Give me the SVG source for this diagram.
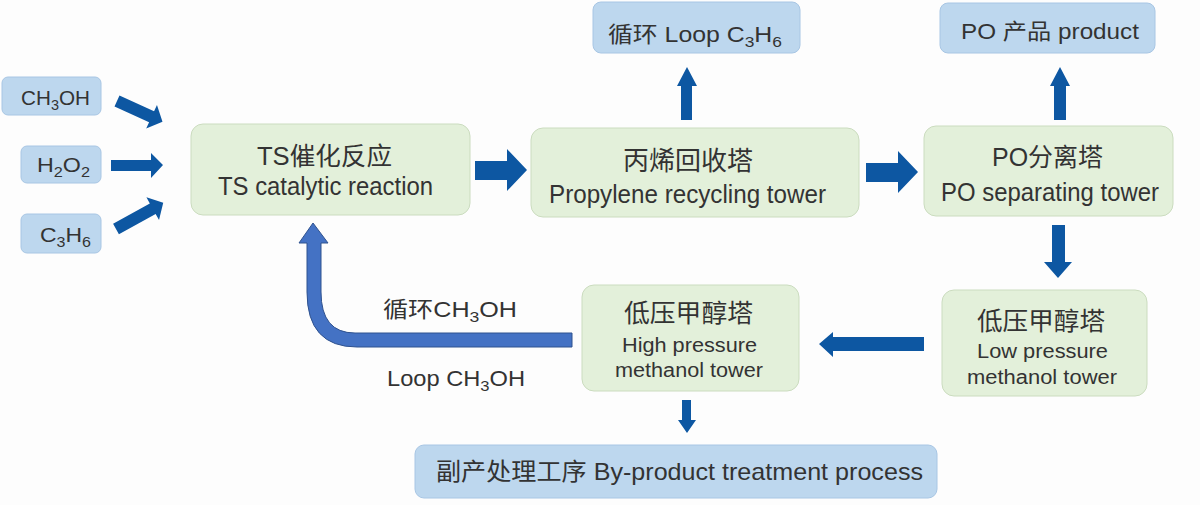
<svg xmlns="http://www.w3.org/2000/svg" width="1200" height="505" viewBox="0 0 1200 505">
<style>
.blue{fill:#bdd7ee;stroke:#a8c6e4;stroke-width:1}
.green{fill:#e3f0da;stroke:#cbdcbf;stroke-width:1}
.t{font-family:"Liberation Sans","Noto Sans CJK SC",sans-serif;fill:#333}
.arr{fill:#0d57a2}
.sub{font-size:70%}
</style>
<rect width="1200" height="505" fill="#fdfdfd"/>
<g id="in-ch3oh"><rect class="blue" x="2" y="77" width="99" height="38" rx="6"/><text class="t" x="21" y="105" font-size="21" textLength="69" lengthAdjust="spacingAndGlyphs">CH<tspan class="sub" dy="5">3</tspan><tspan dy="-5">OH</tspan></text></g>
<g id="in-h2o2"><rect class="blue" x="21" y="146" width="80" height="37" rx="6"/><text class="t" x="37" y="172" font-size="21" textLength="53" lengthAdjust="spacingAndGlyphs">H<tspan class="sub" dy="5">2</tspan><tspan dy="-5">O</tspan><tspan class="sub" dy="5">2</tspan></text></g>
<g id="in-c3h6"><rect class="blue" x="21" y="214" width="80" height="39" rx="6"/><text class="t" x="40" y="242" font-size="21" textLength="51" lengthAdjust="spacingAndGlyphs">C<tspan class="sub" dy="5">3</tspan><tspan dy="-5">H</tspan><tspan class="sub" dy="5">6</tspan></text></g>
<g id="ts"><rect class="green" x="191" y="124" width="279" height="91" rx="12"/><text class="t" x="257" y="165" font-size="25" textLength="135" lengthAdjust="spacingAndGlyphs">TS催化反应</text><text class="t" x="218" y="195" font-size="25" textLength="215" lengthAdjust="spacingAndGlyphs">TS catalytic reaction</text></g>
<g id="propylene"><rect class="green" x="531" y="128" width="328" height="89" rx="12"/><text class="t" x="623" y="170" font-size="26" textLength="130" lengthAdjust="spacingAndGlyphs">丙烯回收塔</text><text class="t" x="549" y="203" font-size="25" textLength="277" lengthAdjust="spacingAndGlyphs">Propylene recycling tower</text></g>
<g id="posep"><rect class="green" x="924" y="126" width="249" height="90" rx="12"/><text class="t" x="992" y="166" font-size="25" textLength="111" lengthAdjust="spacingAndGlyphs">PO分离塔</text><text class="t" x="941" y="201" font-size="25" textLength="218" lengthAdjust="spacingAndGlyphs">PO separating tower</text></g>
<g id="loopc3h6"><rect class="blue" x="593" y="2" width="207" height="51" rx="8"/><text class="t" x="608" y="42" font-size="22" textLength="174" lengthAdjust="spacingAndGlyphs">循环 Loop C<tspan class="sub" dy="5">3</tspan><tspan dy="-5">H</tspan><tspan class="sub" dy="5">6</tspan></text></g>
<g id="poproduct"><rect class="blue" x="940" y="3" width="215" height="50" rx="8"/><text class="t" x="961" y="39" font-size="22" textLength="178" lengthAdjust="spacingAndGlyphs">PO 产品 product</text></g>
<g id="highp"><rect class="green" x="582" y="285" width="217" height="106" rx="12"/><text class="t" x="624" y="322" font-size="25" textLength="129" lengthAdjust="spacingAndGlyphs">低压甲醇塔</text><text class="t" x="622" y="352" font-size="20" textLength="135" lengthAdjust="spacingAndGlyphs">High pressure</text><text class="t" x="615" y="377" font-size="20" textLength="148" lengthAdjust="spacingAndGlyphs">methanol tower</text></g>
<g id="lowp"><rect class="green" x="942" y="290" width="205" height="106" rx="12"/><text class="t" x="977" y="330" font-size="25" textLength="128" lengthAdjust="spacingAndGlyphs">低压甲醇塔</text><text class="t" x="977" y="358" font-size="20" textLength="131" lengthAdjust="spacingAndGlyphs">Low pressure</text><text class="t" x="967" y="384" font-size="20" textLength="150" lengthAdjust="spacingAndGlyphs">methanol tower</text></g>
<g id="byproduct"><rect class="blue" x="415" y="445" width="522" height="53" rx="9"/><text class="t" x="436" y="480" font-size="24" textLength="487" lengthAdjust="spacingAndGlyphs">副产处理工序  By-product treatment process</text></g>
<g id="labels"><text class="t" x="383" y="317" font-size="22" textLength="134" lengthAdjust="spacingAndGlyphs">循环CH<tspan class="sub" dy="5">3</tspan><tspan dy="-5">OH</tspan></text><text class="t" x="387" y="386" font-size="22" textLength="138" lengthAdjust="spacingAndGlyphs">Loop CH<tspan class="sub" dy="5">3</tspan><tspan dy="-5">OH</tspan></text></g>
<g id="connectors">
<path class="arr" transform="translate(117,101) rotate(24.5)" d="M0,-6 L38,-6 L38,-13 L50,0 L38,13 L38,6 L0,6 Z"/>
<path class="arr" d="M111,160 L151,160 L151,153 L163,165 L151,178 L151,171 L111,171 Z"/>
<path class="arr" transform="translate(116,229) rotate(-29)" d="M0,-6 L42,-6 L42,-13 L54,0 L42,13 L42,6 L0,6 Z"/>
<path class="arr" d="M475,161 L507,161 L507,149 L527,170 L507,191 L507,180 L475,180 Z"/>
<path class="arr" d="M866,163 L898,163 L898,151 L918,172 L898,193 L898,182 L866,182 Z"/>
<path class="arr" d="M681,120 L681,86 L677,86 L687,67 L697,86 L692,86 L692,120 Z"/>
<path class="arr" d="M1054,120 L1054,86 L1050,86 L1060,67 L1070,86 L1066,86 L1066,120 Z"/>
<path class="arr" d="M1052,225 L1065,225 L1065,262 L1072,262 L1058,278 L1044,262 L1052,262 Z"/>
<path class="arr" d="M924,337 L833,337 L833,332 L819,344 L833,357 L833,351 L924,351 Z"/>
<path class="arr" d="M682,400 L691,400 L691,420 L696,420 L687,433 L678,420 L682,420 Z"/>
<path d="M572,333 L355,333 Q321,333 321,292 L321,243 L328,243 L313,223 L299,243 L307,243 L307,292 Q307,347 357,347 L572,347 Z" fill="#4472c4" stroke="#2f528f" stroke-width="1"/>
</g>
</svg>
